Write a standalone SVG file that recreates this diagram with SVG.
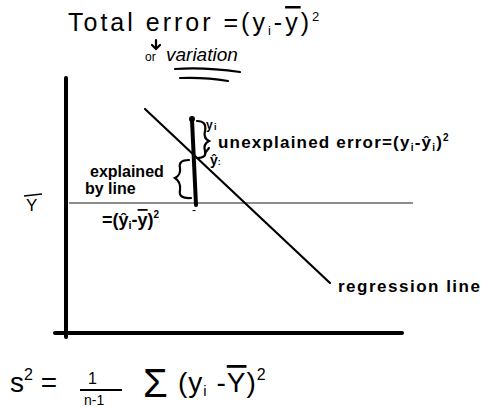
<svg xmlns="http://www.w3.org/2000/svg" width="489" height="407" viewBox="0 0 489 407">
<style>
.t{font-family:"Liberation Sans",Arial,sans-serif;fill:#000}
.b{font-weight:bold}
.ax{stroke:#000;stroke-width:4;stroke-linecap:round;fill:none}
.ln{stroke:#000;stroke-width:2.2;fill:none;stroke-linecap:round}
</style>
<rect width="489" height="407" fill="#fff"/>
<g id="title">
<text class="t" x="68" y="31" font-size="25" letter-spacing="3">Total error =(y<tspan font-size="13" dy="4">i</tspan><tspan dy="-4">-</tspan><tspan text-decoration="overline">y</tspan>)<tspan font-size="13" dy="-10">2</tspan></text>
<path class="ln" d="M156 40 L156 48 M152 45 L156 49 L160 45" stroke-width="1.2"/>
<text class="t" x="145" y="61" font-size="12">or</text>
<text class="t" x="166" y="61" font-size="19" font-style="italic">variation</text>
<path class="ln" d="M175 69 Q205 67 240 72 M180 78 Q205 77 228 81" stroke-width="1.5"/>
</g>
<g id="axes">
<path class="ax" d="M66 78 L66 337"/>
<path class="ax" d="M55 333 L402 333"/>
</g>
<g id="ybar-line">
<path d="M69 203 L413 203" stroke="#666" stroke-width="1.3"/>
<text class="t" x="26" y="211" font-size="17">Y</text>
<path d="M24 196 L42 194" stroke="#000" stroke-width="1.3"/>
</g>
<g id="connectors">
<path class="ln" d="M145 109 L330 283"/>
<path d="M192 120 L196 205" stroke="#000" stroke-width="4" stroke-linecap="round"/>
<circle cx="192" cy="119" r="3"/>
<path class="ln" d="M197 121 Q207 121 205 131 Q203 138 209 141 Q203 144 205 151 Q207 158 197 158" stroke-width="2.8"/>
<path class="ln" d="M189 160 Q178 160 180 168 Q181 175 175 178 Q181 182 180 190 Q178 199 191 198" stroke-width="2.8"/>
<path class="ln" d="M205 153 L209 148" stroke-width="1.5"/>
</g>
<g id="labels">
<text class="t b" x="206" y="129" font-size="12">y</text>
<text class="t b" x="214" y="130" font-size="9">i</text>
<text class="t b" x="218" y="148" font-size="17" letter-spacing="1.2">unexplained error=(y<tspan font-size="10" dy="3">i</tspan><tspan dy="-3">-ŷ</tspan><tspan font-size="10" dy="3">i</tspan><tspan dy="-3">)</tspan><tspan font-size="10" dy="-7">2</tspan></text>
<text class="t b" x="210" y="165" font-size="14">ŷ<tspan font-size="9">:</tspan></text>
<text class="t b" x="90" y="177" font-size="16">explained</text>
<text class="t b" x="85" y="194" font-size="16">by line</text>
<text class="t b" x="102" y="226" font-size="18">=(ŷ<tspan font-size="11" dy="3">i</tspan><tspan dy="-3">-</tspan><tspan text-decoration="overline">y</tspan>)<tspan font-size="10" dy="-8">2</tspan></text>
<text class="t" x="192" y="214" font-size="12">-</text>
<text class="t b" x="338" y="292" font-size="17" letter-spacing="1.5">regression line</text>
</g>
<g id="formula">
<text class="t" x="10" y="392" font-size="28">s<tspan font-size="16" dy="-12">2</tspan><tspan dy="12"> =</tspan></text>
<text class="t" x="88" y="384" font-size="16">1</text>
<path d="M80 390 L122 390" stroke="#000" stroke-width="2"/>
<text class="t" x="84" y="405" font-size="14">n-1</text>
<text class="t" x="143" y="397" font-size="40">Σ</text>
<text class="t" x="178" y="392" font-size="28" letter-spacing="1">(y<tspan font-size="15" dy="4">i</tspan><tspan dy="-4"> -</tspan><tspan text-decoration="overline">Y</tspan>)<tspan font-size="16" dy="-12">2</tspan></text>
</g>
</svg>
